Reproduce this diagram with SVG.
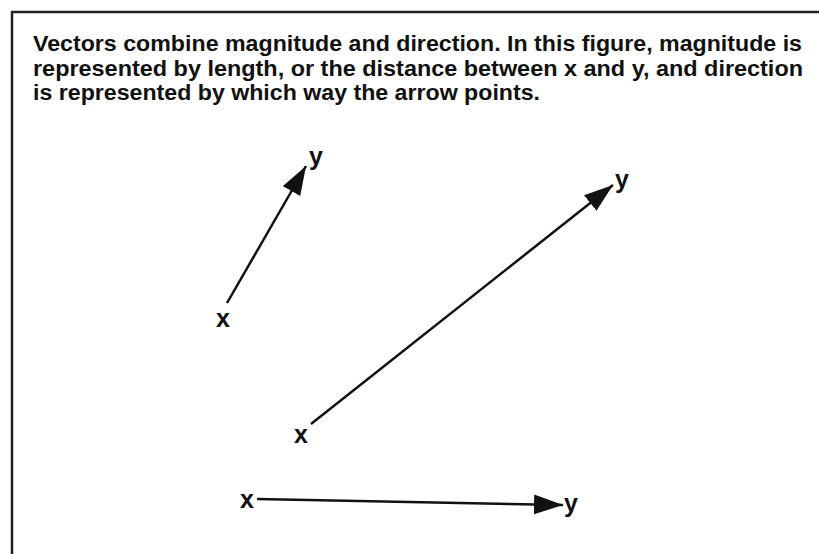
<svg xmlns="http://www.w3.org/2000/svg" width="819" height="554" viewBox="0 0 819 554">
<style>
.cap{font-family:"Liberation Sans",Arial,sans-serif;font-weight:bold;font-size:22.5px;fill:#111}
.lbl{font-family:"Liberation Sans",Arial,sans-serif;font-weight:bold;font-size:25px;fill:#111}
.vec{stroke:#111;stroke-width:2.5;fill:none;marker-end:url(#ah)}
</style>
<defs>
<marker id="ah" markerUnits="userSpaceOnUse" markerWidth="32" markerHeight="22" refX="29" refY="10" orient="auto">
<path d="M0,0 L29,10 L0,20 Z" fill="#111"/>
</marker>
</defs>
<rect width="819" height="554" fill="#fff"/>
<path d="M12,554 V12 H819" fill="none" stroke="#222" stroke-width="2.5"/>
<g id="caption">
<text class="cap" x="33" y="51" textLength="769" lengthAdjust="spacingAndGlyphs">Vectors combine magnitude and direction. In this figure, magnitude is</text>
<text class="cap" x="33" y="76" textLength="770" lengthAdjust="spacingAndGlyphs">represented by length, or the distance between x and y, and direction</text>
<text class="cap" x="33" y="100" textLength="507" lengthAdjust="spacingAndGlyphs">is represented by which way the arrow points.</text>
</g>
<g id="connectors">
<line class="vec" x1="227" y1="303" x2="306" y2="166"/>
<line class="vec" x1="311" y1="424" x2="613" y2="185"/>
<line class="vec" x1="257" y1="499" x2="563" y2="505"/>
</g>
<g id="vector1">
<text class="lbl" x="216" y="327">x</text>
<text class="lbl" x="309" y="165">y</text>
</g>
<g id="vector2">
<text class="lbl" x="294" y="443">x</text>
<text class="lbl" x="615" y="188">y</text>
</g>
<g id="vector3">
<text class="lbl" x="240" y="508">x</text>
<text class="lbl" x="564" y="512">y</text>
</g>
</svg>
